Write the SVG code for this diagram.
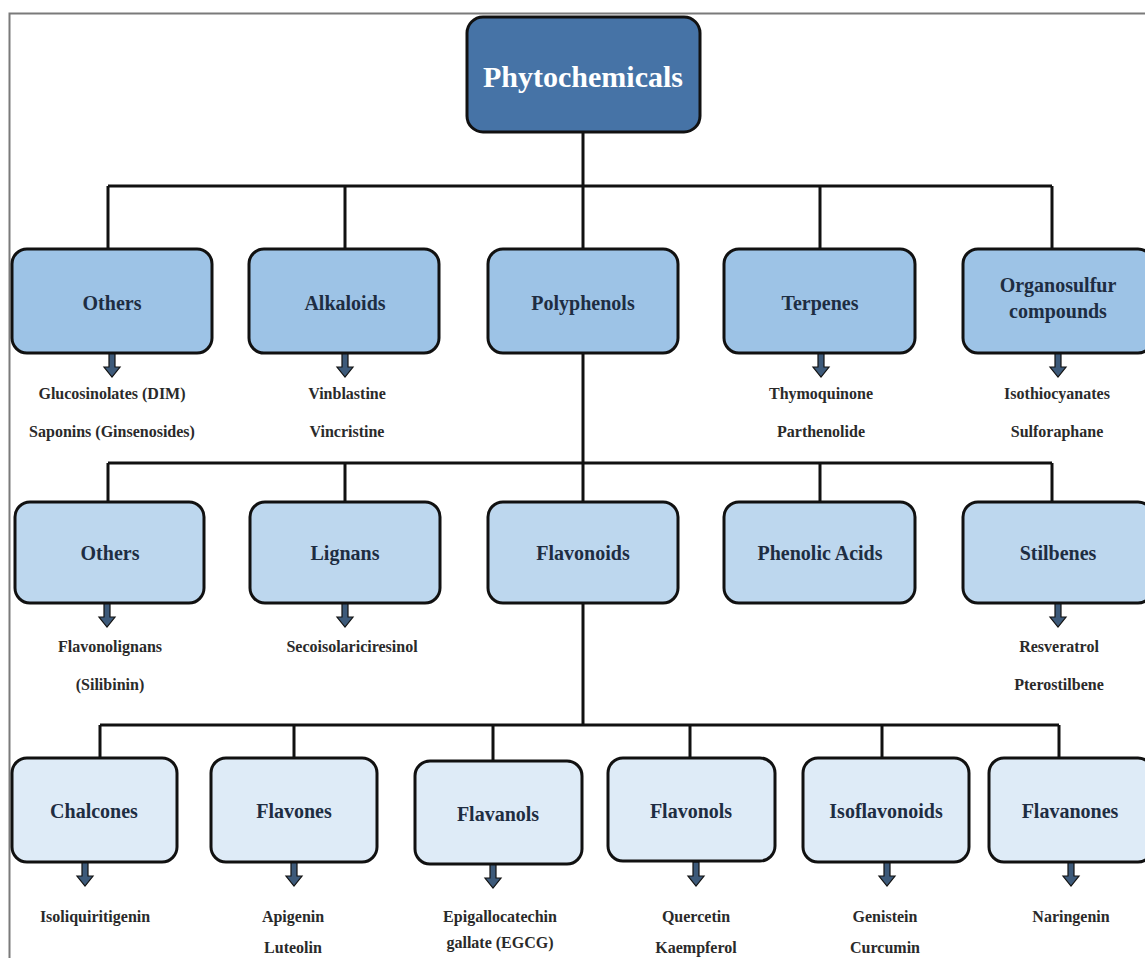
<svg xmlns="http://www.w3.org/2000/svg" xmlns:xlink="http://www.w3.org/1999/xlink" width="1145" height="958" viewBox="0 0 1145 958">
<style>
.b1{fill:#9dc3e6;stroke:#111;stroke-width:3}
.b2{fill:#bdd7ee;stroke:#111;stroke-width:3}
.b3{fill:#deebf7;stroke:#111;stroke-width:3}
.lbl{font-family:"Liberation Serif",serif;font-weight:bold;font-size:20px;fill:#1e2d42;text-anchor:middle}
.sub{font-family:"Liberation Serif",serif;font-weight:bold;font-size:16px;fill:#2a2a2a;text-anchor:middle}
.con{stroke:#111;stroke-width:3;fill:none}
</style>
<defs>
<path id="arr" d="M-3,0 L3,0 L3,14 L8,14 L0,24 L-8,14 L-3,14 Z" fill="#3d5a7a" stroke="#111" stroke-width="1.2"/>
</defs>
<rect x="0" y="0" width="1145" height="958" fill="#fff"/>
<path d="M9.5,958 L9.5,13.5 L1145,13.5" fill="none" stroke="#7a7a7a" stroke-width="2"/>

<g id="connectors">
<path class="con" d="M583,132 V186 M108,186 H1052 M108,186 V249 M345,186 V249 M583,186 V249 M820,186 V249 M1052,186 V249"/>
<path class="con" d="M583,353 V463 M108,463 H1052 M108,463 V502 M345,463 V502 M583,463 V502 M820,463 V502 M1052,463 V502"/>
<path class="con" d="M583,603 V725 M100,725 H1059 M100,725 V758 M294,725 V758 M493,725 V761 M690,725 V758 M882,725 V758 M1059,725 V758"/>
<use xlink:href="#arr" x="112" y="353"/>
<use xlink:href="#arr" x="345" y="353"/>
<use xlink:href="#arr" x="821" y="353"/>
<use xlink:href="#arr" x="1058" y="353"/>
<use xlink:href="#arr" x="107" y="603"/>
<use xlink:href="#arr" x="345" y="603"/>
<use xlink:href="#arr" x="1058" y="603"/>
<use xlink:href="#arr" x="85" y="862"/>
<use xlink:href="#arr" x="294" y="862"/>
<use xlink:href="#arr" x="493" y="864"/>
<use xlink:href="#arr" x="696" y="862"/>
<use xlink:href="#arr" x="887" y="862"/>
<use xlink:href="#arr" x="1071" y="862"/>
</g>

<g id="phytochemicals">
<rect x="467" y="17" width="233" height="115" rx="16" fill="#4673a6" stroke="#111" stroke-width="3"/>
<text x="583" y="87" font-family="Liberation Serif,serif" font-weight="bold" font-size="30" fill="#fff" text-anchor="middle">Phytochemicals</text>
</g>

<g id="others1">
<rect class="b1" x="12" y="249" width="200" height="104" rx="15"/>
<text class="lbl" x="112" y="310">Others</text>
<text class="sub" x="112" y="399">Glucosinolates (DIM)</text>
<text class="sub" x="112" y="437">Saponins (Ginsenosides)</text>
</g>
<g id="alkaloids">
<rect class="b1" x="249" y="249" width="190" height="104" rx="15"/>
<text class="lbl" x="345" y="310">Alkaloids</text>
<text class="sub" x="347" y="399">Vinblastine</text>
<text class="sub" x="347" y="437">Vincristine</text>
</g>
<g id="polyphenols">
<rect class="b1" x="488" y="249" width="190" height="104" rx="15"/>
<text class="lbl" x="583" y="310">Polyphenols</text>
</g>
<g id="terpenes">
<rect class="b1" x="724" y="249" width="191" height="104" rx="15"/>
<text class="lbl" x="820" y="310">Terpenes</text>
<text class="sub" x="821" y="399">Thymoquinone</text>
<text class="sub" x="821" y="437">Parthenolide</text>
</g>
<g id="organosulfur">
<rect class="b1" x="963" y="249" width="190" height="104" rx="15"/>
<text class="lbl" x="1058" y="292">Organosulfur</text>
<text class="lbl" x="1058" y="318">compounds</text>
<text class="sub" x="1057" y="399">Isothiocyanates</text>
<text class="sub" x="1057" y="437">Sulforaphane</text>
</g>

<g id="others2">
<rect class="b2" x="15" y="502" width="189" height="101" rx="15"/>
<text class="lbl" x="110" y="560">Others</text>
<text class="sub" x="110" y="652">Flavonolignans</text>
<text class="sub" x="110" y="690">(Silibinin)</text>
</g>
<g id="lignans">
<rect class="b2" x="250" y="502" width="190" height="101" rx="15"/>
<text class="lbl" x="345" y="560">Lignans</text>
<text class="sub" x="352" y="652">Secoisolariciresinol</text>
</g>
<g id="flavonoids">
<rect class="b2" x="488" y="502" width="190" height="101" rx="15"/>
<text class="lbl" x="583" y="560">Flavonoids</text>
</g>
<g id="phenolic">
<rect class="b2" x="724" y="502" width="191" height="101" rx="15"/>
<text class="lbl" x="820" y="560">Phenolic Acids</text>
</g>
<g id="stilbenes">
<rect class="b2" x="963" y="502" width="190" height="101" rx="15"/>
<text class="lbl" x="1058" y="560">Stilbenes</text>
<text class="sub" x="1059" y="652">Resveratrol</text>
<text class="sub" x="1059" y="690">Pterostilbene</text>
</g>

<g id="chalcones">
<rect class="b3" x="12" y="758" width="165" height="104" rx="15"/>
<text class="lbl" x="94" y="818">Chalcones</text>
<text class="sub" x="95" y="922">Isoliquiritigenin</text>
</g>
<g id="flavones">
<rect class="b3" x="211" y="758" width="166" height="104" rx="15"/>
<text class="lbl" x="294" y="818">Flavones</text>
<text class="sub" x="293" y="922">Apigenin</text>
<text class="sub" x="293" y="953">Luteolin</text>
</g>
<g id="flavanols">
<rect class="b3" x="415" y="761" width="167" height="103" rx="15"/>
<text class="lbl" x="498" y="821">Flavanols</text>
<text class="sub" x="500" y="922">Epigallocatechin</text>
<text class="sub" x="500" y="948">gallate (EGCG)</text>
</g>
<g id="flavonols">
<rect class="b3" x="608" y="758" width="167" height="103" rx="15"/>
<text class="lbl" x="691" y="818">Flavonols</text>
<text class="sub" x="696" y="922">Quercetin</text>
<text class="sub" x="696" y="953">Kaempferol</text>
</g>
<g id="isoflavonoids">
<rect class="b3" x="803" y="758" width="166" height="104" rx="15"/>
<text class="lbl" x="886" y="818">Isoflavonoids</text>
<text class="sub" x="885" y="922">Genistein</text>
<text class="sub" x="885" y="953">Curcumin</text>
</g>
<g id="flavanones">
<rect class="b3" x="989" y="758" width="164" height="104" rx="15"/>
<text class="lbl" x="1070" y="818">Flavanones</text>
<text class="sub" x="1071" y="922">Naringenin</text>
</g>
</svg>
